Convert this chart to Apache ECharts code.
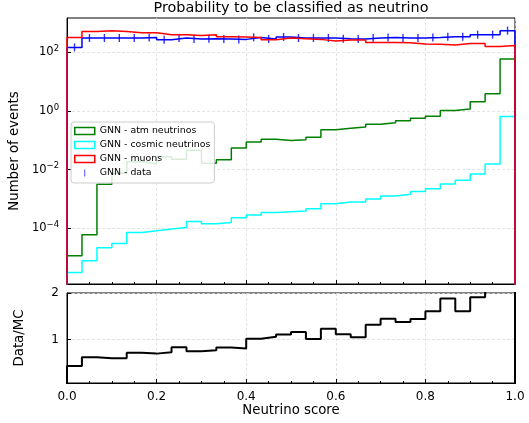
<!DOCTYPE html>
<html><head><meta charset="utf-8">
<script src="https://cdn.jsdelivr.net/npm/echarts@6/dist/echarts.min.js"></script>
<style>html,body{margin:0;padding:0;background:#fff}#c{width:529px;height:423px}</style>
</head><body><div id="c"></div>
<script>
// Bin edges (30 bins on the neutrino score)
const binEdges = [0,0.0333,0.0667,0.1,0.1333,0.1667,0.2,0.2333,0.2667,0.3,0.3333,0.3667,0.4,0.4333,0.4667,0.5,0.5333,0.5667,0.6,0.6333,0.6667,0.7,0.7333,0.7667,0.8,0.8333,0.8667,0.9,0.9333,0.9667,1];
const xTicks = [0,0.2,0.4,0.6,0.8,1.0];
const yTicksTop = [1e-4,1e-2,1,100];
const yTicksRatio = [1,2];

const atmNu = [1.15e-5,6.0e-5,3.2e-3,7.5e-3,0.0186,0.0159,0.0275,0.0226,0.046,0.0165,0.0218,0.0546,0.0875,0.109,0.099,0.105,0.128,0.230,0.259,0.286,0.354,0.399,0.467,0.568,0.665,1.05,1.18,2.08,3.89,59.6];
const cosmicNu = [3.1e-6,7.8e-6,2.16e-5,3.03e-5,7.19e-5,8.2e-5,9.4e-5,1.06e-4,1.71e-4,1.42e-4,1.58e-4,2.28e-4,2.82e-4,3.46e-4,3.66e-4,3.86e-4,4.63e-4,6.86e-4,7.84e-4,7.84e-4,1.0e-3,1.26e-3,1.45e-3,1.80e-3,2.23e-3,3.23e-3,4.35e-3,7.08e-3,0.0157,0.655];
const muons = [325,521,551,521,470,470,402,402,380,402,343,336,325,271,310,294,278,245,265,265,219,219,214,194,188,179,203,203,159,173];
const dataCounts = [148,310,310,310,310,325,271,310,287,294,287,278,325,287,336,310,310,310,294,287,310,325,310,310,325,343,343,402,402,551];
const ratio = [0.437,0.62,0.60,0.60,0.72,0.70,0.73,0.835,0.75,0.77,0.83,0.81,1.02,1.06,1.11,1.165,1.015,1.235,1.115,1.05,1.32,1.45,1.38,1.44,1.61,1.88,1.61,1.91,2.45,2.36];

const FONT = 'DejaVu Sans';
function stepPts(vals, base) {
  const pts = [[binEdges[0], base]];
  vals.forEach((v, i) => { pts.push([binEdges[i], v]); pts.push([binEdges[i + 1], v]); });
  pts.push([binEdges[vals.length], base]);
  return pts;
}
const centers = dataCounts.map((v, i) => [(binEdges[i] + binEdges[i + 1]) / 2, v]);

const chart = echarts.init(document.getElementById('c'), null, {renderer: 'canvas'});
const gridLine = {show: true, lineStyle: {color: '#dcdcdc', type: [3, 2], width: 0.8}};
function histSeries(name, vals, color, base) {
  return {name, type: 'line', xAxisIndex: 0, yAxisIndex: 0, data: stepPts(vals, base),
    symbol: 'none', showSymbol: false, clip: true, animation: false, silent: true,
    itemStyle: {color}, lineStyle: {color, width: 1.5}};
}
chart.setOption({
  animation: false,
  textStyle: {fontFamily: FONT},
  title: {text: 'Probability to be classified as neutrino', left: 291, top: 1, padding: 0, textAlign: 'center',
    textStyle: {fontFamily: FONT, fontSize: 14.4, fontWeight: 'normal', color: '#000'}},
  legend: {
    orient: 'vertical', left: 71, top: 122, itemWidth: 20, itemHeight: 7, itemGap: 0,
    padding: [2, 4, 3, 3], backgroundColor: 'rgba(255,255,255,0.85)', borderColor: '#cccccc',
    borderWidth: 1, borderRadius: 3,
    textStyle: {fontFamily: FONT, fontSize: 9.4, color: '#000', lineHeight: 14},
    data: [
      {name: 'GNN - atm neutrinos', icon: 'rect', itemStyle: {color: 'rgba(0,0,0,0)', borderColor: '#008000', borderWidth: 1.5}},
      {name: 'GNN - cosmic neutrinos', icon: 'rect', itemStyle: {color: 'rgba(0,0,0,0)', borderColor: '#00ffff', borderWidth: 1.5}},
      {name: 'GNN - muons', icon: 'rect', itemStyle: {color: 'rgba(0,0,0,0)', borderColor: '#ff0000', borderWidth: 1.5}},
      {name: 'GNN - data', icon: 'path://M0,0L1,0L1,8L0,8Z', itemStyle: {color: '#0000ff', borderWidth: 0}}
    ]
  },
  grid: [
    {left: 67, right: 14, top: 18, height: 266, show: true, borderColor: '#000', borderWidth: 1},
    {left: 67, right: 14, top: 293, height: 90, show: true, borderColor: '#000', borderWidth: 1}
  ],
  xAxis: [
    {type: 'value', gridIndex: 0, min: 0, max: 1, interval: 0.2,
      axisLine: {show: true, lineStyle: {color: '#000'}},
      axisTick: {show: true, inside: true, length: 4, lineStyle: {color: '#000'}},
      minorTick: {show: true, splitNumber: 4, length: 2, lineStyle: {color: '#000'}},
      axisLabel: {show: false}, splitLine: gridLine},
    {type: 'value', gridIndex: 1, min: 0, max: 1, interval: 0.2,
      name: 'Neutrino score', nameLocation: 'middle', nameGap: 19,
      nameTextStyle: {fontFamily: FONT, fontSize: 13.3, color: '#000'},
      axisLine: {show: true, lineStyle: {color: '#000'}},
      axisTick: {show: true, inside: true, length: 4, lineStyle: {color: '#000'}},
      minorTick: {show: true, splitNumber: 4, length: 2, lineStyle: {color: '#000'}},
      axisLabel: {show: true, fontFamily: FONT, fontSize: 12, color: '#000', margin: 8,
        formatter: v => v.toFixed(1), customValues: xTicks},
      splitLine: gridLine}
  ],
  yAxis: [
    {type: 'log', logBase: 10, gridIndex: 0, min: 1.26e-6, max: 1490,
      name: 'Number of events', nameLocation: 'middle', nameGap: 41,
      nameTextStyle: {fontFamily: FONT, fontSize: 13.3, color: '#000'},
      axisLine: {show: true, lineStyle: {color: '#000'}},
      axisTick: {show: true, inside: true, length: 4, customValues: yTicksTop, lineStyle: {color: '#000'}},
      axisLabel: {show: true, margin: 8, customValues: yTicksTop,
        formatter: v => { const e = Math.round(Math.log10(v)); return '{b|10}{s|' + String(e).replace('-', '\u2212') + '}'; },
        rich: {b: {fontFamily: FONT, fontSize: 11.5, color: '#000'}, s: {fontFamily: FONT, fontSize: 8.5, color: '#000', padding: [0, 0, 7, 0]}}},
      splitLine: gridLine},
    {type: 'value', gridIndex: 1, min: 0.07, max: 2,
      name: 'Data/MC', nameLocation: 'middle', nameGap: 41,
      nameTextStyle: {fontFamily: FONT, fontSize: 13.3, color: '#000'},
      axisLine: {show: true, lineStyle: {color: '#000'}},
      axisTick: {show: true, inside: true, length: 4, customValues: yTicksRatio, lineStyle: {color: '#000'}},
      axisLabel: {show: true, margin: 8, customValues: yTicksRatio, fontFamily: FONT, fontSize: 12, color: '#000'},
      splitLine: gridLine}
  ],
  series: [
    histSeries('GNN - atm neutrinos', atmNu, '#008000', 1e-9),
    histSeries('GNN - cosmic neutrinos', cosmicNu, '#00ffff', 1e-9),
    histSeries('data_step', dataCounts, '#0000ff', 1e-9),
    histSeries('GNN - muons', muons, '#ff0000', 1e-9),
    {name: 'GNN - data', type: 'scatter', xAxisIndex: 0, yAxisIndex: 0, data: centers,
      symbol: 'rect', symbolSize: [1.4, 8], itemStyle: {color: '#0000ff'}, silent: true, animation: false},
    {name: 'ratio', type: 'line', xAxisIndex: 1, yAxisIndex: 1, data: stepPts(ratio, -1),
      symbol: 'none', showSymbol: false, clip: true, silent: true, animation: false,
      lineStyle: {color: '#000', width: 2}}
  ]
});
</script></body></html>
